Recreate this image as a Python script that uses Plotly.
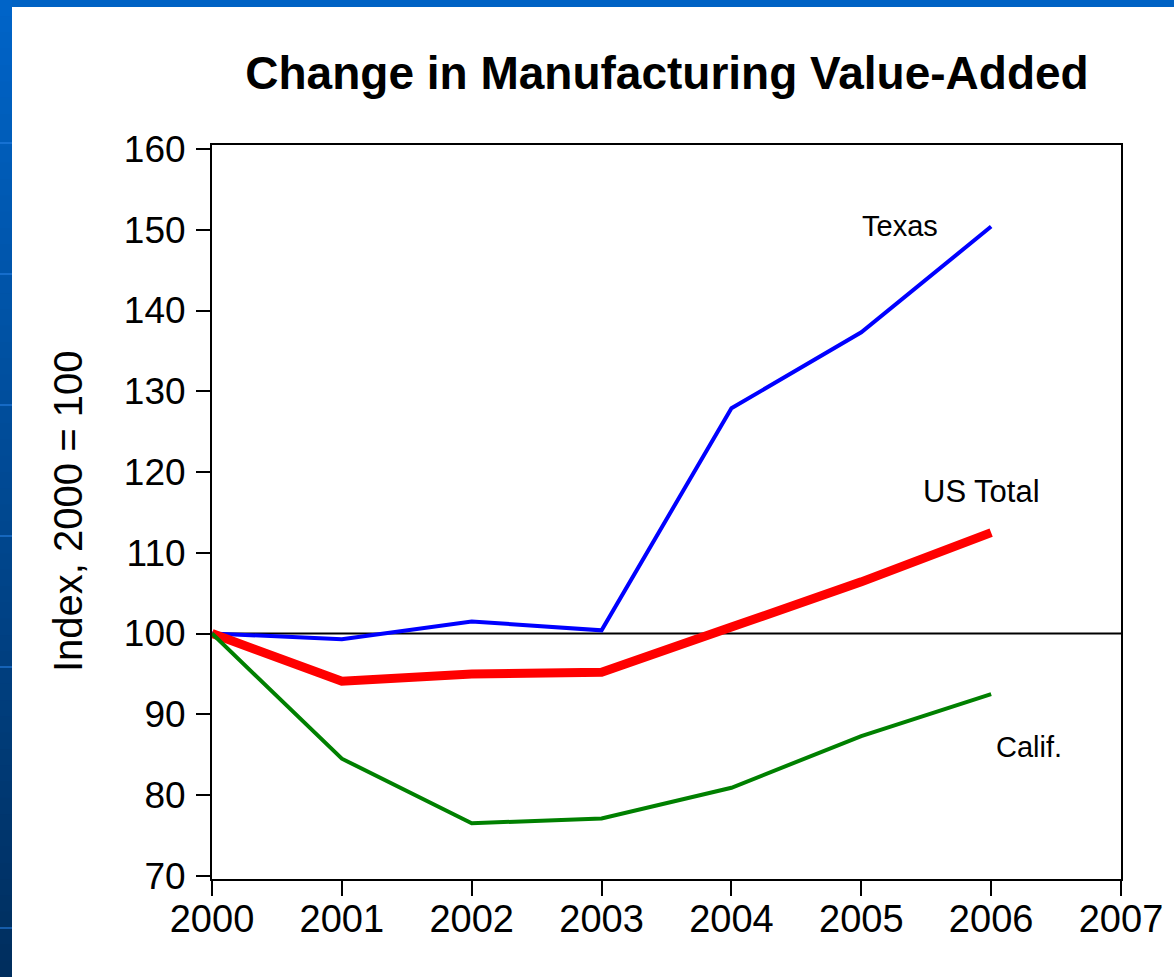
import plotly.graph_objects as go

# Index of manufacturing value-added, 2000 = 100
years = [2000, 2001, 2002, 2003, 2004, 2005, 2006]
texas = [100.0, 99.3, 101.5, 100.4, 127.9, 137.3, 150.4]
us_total = [100.0, 94.1, 95.0, 95.2, 100.8, 106.4, 112.5]
california = [100.0, 84.5, 76.5, 77.1, 80.9, 87.3, 92.5]

series_labels = ["Texas", "US Total", "Calif."]
series_colors = ["#0000FF", "#FF0000", "#008000"]
series_widths = [4, 9, 4]

x_ticks = [2000, 2001, 2002, 2003, 2004, 2005, 2006, 2007]
y_ticks = [70, 80, 90, 100, 110, 120, 130, 140, 150, 160]

FONT = "Arial, Liberation Sans, sans-serif"
W, H = 1174, 977
ML, MR, MT, MB = 212, 53, 145, 98
PW, PH = W - ML - MR, H - MT - MB


def px_x(p):
    return (p - ML) / PW


def px_y(p):
    return (H - MB - p) / PH


fig = go.Figure()
for name, vals, col, wid in zip(series_labels, [texas, us_total, california],
                                series_colors, series_widths):
    fig.add_trace(go.Scatter(x=years, y=vals, mode="lines", name=name,
                             line=dict(color=col, width=wid),
                             showlegend=False, hoverinfo="x+y"))

shapes = []
# reference line at the base-year index
shapes.append(dict(type="line", xref="paper", yref="y", x0=0, x1=1, y0=100, y1=100,
                   line=dict(color="black", width=2), layer="below"))

# slide frame: blue bar along the top and a shaded bar down the left side
shapes.append(dict(type="rect", xref="paper", yref="paper",
                   x0=px_x(0), x1=px_x(W), y0=px_y(7), y1=px_y(0),
                   fillcolor="#0062C4", line=dict(width=0), layer="above"))
n_bands = 60
top_rgb, bot_rgb = (0, 100, 200), (0, 46, 94)
for i in range(n_bands):
    t = i / (n_bands - 1)
    r, g, b = [round(a + (c - a) * t) for a, c in zip(top_rgb, bot_rgb)]
    y0p = H * i / n_bands
    y1p = H * (i + 1) / n_bands + 1
    shapes.append(dict(type="rect", xref="paper", yref="paper",
                       x0=px_x(0), x1=px_x(12), y0=px_y(y1p), y1=px_y(y0p),
                       fillcolor=f"rgb({r},{g},{b})", line=dict(width=0),
                       layer="above"))
for yl in [143, 274, 405, 536, 667, 928]:
    shapes.append(dict(type="line", xref="paper", yref="paper",
                       x0=px_x(0), x1=px_x(12), y0=px_y(yl), y1=px_y(yl),
                       line=dict(color="rgba(40,130,230,0.55)", width=2),
                       layer="above"))

annotations = [
    dict(text="Index, 2000 = 100", xref="paper", yref="paper",
         x=px_x(68), y=px_y(512), textangle=-90, showarrow=False,
         font=dict(family=FONT, size=40, color="black"),
         xanchor="center", yanchor="middle"),
    dict(text="Texas", xref="paper", yref="paper", x=px_x(900), y=px_y(226),
         showarrow=False, font=dict(family=FONT, size=29, color="black"),
         xanchor="center", yanchor="middle"),
    dict(text="US Total", xref="paper", yref="paper", x=px_x(981), y=px_y(491),
         showarrow=False, font=dict(family=FONT, size=31, color="black"),
         xanchor="center", yanchor="middle"),
    dict(text="Calif.", xref="paper", yref="paper", x=px_x(1029), y=px_y(747),
         showarrow=False, font=dict(family=FONT, size=29, color="black"),
         xanchor="center", yanchor="middle"),
]

fig.update_layout(
    width=W, height=H,
    margin=dict(l=ML, r=MR, t=MT, b=MB, pad=0),
    paper_bgcolor="white", plot_bgcolor="white",
    title=dict(text="<b>Change in Manufacturing Value-Added</b>",
               x=px_x(667), xref="paper", xanchor="center",
               y=1 - 73 / H, yref="container", yanchor="middle",
               font=dict(family=FONT, size=46, color="black")),
    shapes=shapes, annotations=annotations,
    showlegend=False,
)
fig.update_xaxes(range=[2000, 2007], tickvals=x_ticks,
                 ticktext=[str(v) for v in x_ticks],
                 showgrid=False, zeroline=False,
                 showline=True, linecolor="black", linewidth=2, mirror=True,
                 ticks="outside", ticklen=15, tickwidth=2, tickcolor="black",
                 ticklabelstandoff=-10,
                 tickfont=dict(family=FONT, size=38, color="black"))
fig.update_yaxes(range=[69.6, 160.5], tickvals=y_ticks,
                 showgrid=False, zeroline=False,
                 showline=True, linecolor="black", linewidth=2, mirror=True,
                 ticks="outside", ticklen=14, tickwidth=2, tickcolor="black",
                 ticklabelstandoff=3,
                 tickfont=dict(family=FONT, size=37, color="black"))

fig.write_html("out.html")
